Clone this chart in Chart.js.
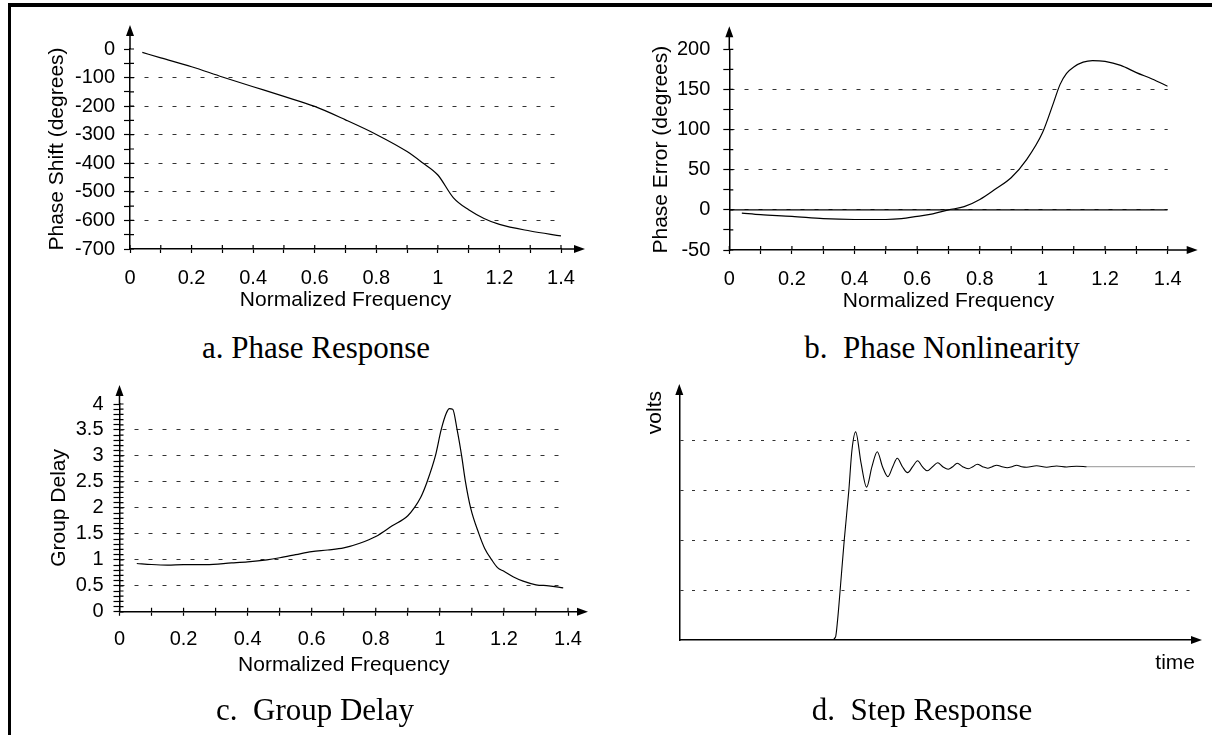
<!DOCTYPE html>
<html>
<head>
<meta charset="utf-8">
<title>Phase response, nonlinearity, group delay and step response</title>
<script src="https://cdn.jsdelivr.net/npm/chart.js@4.4.1/dist/chart.umd.min.js"></script>
<style>
    html, body { margin: 0; padding: 0; background: #fff; overflow: hidden; }
    body { width: 1212px; height: 735px; position: relative; }
    .frame-top { position: absolute; left: 8px; top: 3px; width: 1204px; height: 4px; background: #000; }
    .frame-left { position: absolute; left: 8px; top: 3px; width: 3px; height: 732px; background: #000; }
    canvas { position: absolute; }
    .caption {
        position: absolute; width: 400px; text-align: center; white-space: pre;
        font-family: "Liberation Serif", "Times New Roman", serif;
        font-size: 31px; line-height: 31px; color: #000;
    }
</style>
</head>
<body>
<div class="frame-top"></div>
<div class="frame-left"></div>

<canvas id="chartA" width="594" height="320" style="left:12px;top:8px"></canvas>
<canvas id="chartB" width="600" height="320" style="left:612px;top:8px"></canvas>
<canvas id="chartC" width="594" height="330" style="left:12px;top:370px"></canvas>
<canvas id="chartD" width="600" height="330" style="left:612px;top:370px"></canvas>

<div class="caption" style="left:116px;top:332px">a. Phase Response</div>
<div class="caption" style="left:742px;top:332px">b.  Phase Nonlinearity</div>
<div class="caption" style="left:115px;top:694px">c.  Group Delay</div>
<div class="caption" style="left:722px;top:694px">d.  Step Response</div>

<script>
// values

// a. phase response
const freqA  = [0.04, 0.1, 0.2, 0.3, 0.4, 0.5, 0.6, 0.7, 0.8, 0.9, 0.95, 1.0, 1.05, 1.1, 1.15, 1.2, 1.3, 1.4];
const phaseA = [-12, -31, -62, -98, -132, -166, -201, -248, -299, -359, -398, -441, -520, -563, -593, -614, -637, -654];

// b. phase nonlinearity
const freqB  = [0.04, 0.1, 0.2, 0.3, 0.4, 0.5, 0.55, 0.6, 0.65, 0.7, 0.75, 0.8, 0.85, 0.9, 0.95, 1.0,
                1.035, 1.056, 1.077, 1.1, 1.13, 1.16, 1.2, 1.25, 1.3, 1.35, 1.4];
const errorB = [-4, -6, -8, -11, -12, -12, -11, -8, -5, 0, 4, 13, 26, 40, 63, 96,
                133, 156, 170, 178, 184, 186, 185, 180, 171, 163, 154];
const zeroB  = [0, 1.4];

// c. group delay
const freqC  = [0.054, 0.1, 0.15, 0.2, 0.27, 0.35, 0.4, 0.46, 0.5, 0.55, 0.6, 0.65, 0.7, 0.75, 0.8, 0.85,
                0.9, 0.92, 0.94, 0.96, 0.986, 1.004, 1.02, 1.03, 1.04, 1.054, 1.068, 1.08, 1.096,
                1.122, 1.14, 1.162, 1.18, 1.2, 1.23, 1.26, 1.3, 1.34, 1.385];
const delayC = [0.93, 0.91, 0.90, 0.91, 0.91, 0.94, 0.96, 1.0, 1.04, 1.10, 1.16, 1.19, 1.23, 1.32, 1.45, 1.65,
                1.85, 2.0, 2.2, 2.5, 3.0, 3.5, 3.82, 3.91, 3.9, 3.5, 3.0, 2.5, 2.0,
                1.5, 1.22, 1.0, 0.85, 0.78, 0.67, 0.59, 0.52, 0.5, 0.46];

// d. step response (arbitrary time and volt units)
const timeD  = [0, 29.8, 30.6, 31.0, 31.5, 32.3, 33.2, 33.8, 34.54, 35.6, 36.69, 37.73, 38.77, 39.8, 40.86,
                41.8, 42.69, 43.7, 44.72, 45.7, 46.68, 47.6, 48.56, 49.6, 50.6, 51.6, 52.67, 53.55,
                54.44, 55.5, 56.59, 57.5, 58.35, 59.4, 60.39, 61.3, 62.15, 63.2, 64.23, 65.15, 66.07,
                67.05, 68.02, 69.98, 71.94, 73.9, 75.86, 77.81, 79.77];
const voltsD = [0, 0, 0.06, 0.4, 1.0, 2.0, 3.0, 3.8, 4.18, 3.55, 3.07, 3.48, 3.78, 3.48, 3.28,
                3.48, 3.65, 3.48, 3.36, 3.48, 3.60, 3.48, 3.40, 3.48, 3.56, 3.48, 3.43, 3.48,
                3.55, 3.48, 3.44, 3.48, 3.53, 3.48, 3.45, 3.48, 3.51, 3.48, 3.46, 3.48, 3.51,
                3.48, 3.47, 3.50, 3.47, 3.495, 3.475, 3.49, 3.48];
const settledTime  = [79.77, 101];
const settledVolts = [3.48, 3.48];

// labelled ticks
const freqLabels   = [0, 0.2, 0.4, 0.6, 0.8, 1, 1.2, 1.4];
const phaseLabelsA = [0, -100, -200, -300, -400, -500, -600, -700];
const errorLabelsB = [-50, 0, 50, 100, 150, 200];
const delayLabelsC = [0, 0.5, 1, 1.5, 2, 2.5, 3, 3.5, 4];
const voltLevelsD  = [1, 2, 3, 4];

const sans = '"Liberation Sans", Arial, sans-serif';
Chart.defaults.font.family = sans;
Chart.defaults.color = '#000';
Chart.defaults.animation = false;

function points(xs, ys) {
    return xs.map((x, i) => ({ x: x, y: ys[i] }));
}

function inList(list, v) {
    return list.some(l => Math.abs(l - v) < 1e-6);
}

// axis arrows, plus the inner half of the tick marks
const axisArrows = {
    id: 'axisArrows',
    afterDraw(chart, args, opts) {
        const ctx = chart.ctx;
        const area = chart.chartArea;
        const xs = chart.scales.x;
        const ys = chart.scales.y;
        ctx.save();
        ctx.strokeStyle = '#000';
        ctx.fillStyle = '#000';
        if (opts.inTick) {
            ctx.lineWidth = 1.2;
            ctx.beginPath();
            xs.ticks.forEach(t => {
                const px = xs.getPixelForValue(t.value);
                ctx.moveTo(px, area.bottom);
                ctx.lineTo(px, area.bottom - opts.inTick);
            });
            ys.ticks.forEach(t => {
                const py = ys.getPixelForValue(t.value);
                ctx.moveTo(area.left, py);
                ctx.lineTo(area.left + opts.inTick, py);
            });
            ctx.stroke();
        }
        const ty = area.top - opts.yExt;
        const tx = area.right + opts.xExt;
        ctx.lineWidth = 1.5;
        ctx.beginPath();
        ctx.moveTo(area.left, area.top);
        ctx.lineTo(area.left, ty + 6);
        ctx.moveTo(area.right, area.bottom);
        ctx.lineTo(tx - 6, area.bottom);
        ctx.stroke();
        ctx.beginPath();
        ctx.moveTo(area.left, ty);
        ctx.lineTo(area.left - 4, ty + 11);
        ctx.lineTo(area.left + 4, ty + 11);
        ctx.closePath();
        ctx.moveTo(tx, area.bottom);
        ctx.lineTo(tx - 11, area.bottom - 4);
        ctx.lineTo(tx - 11, area.bottom + 4);
        ctx.closePath();
        ctx.fill();
        ctx.restore();
    }
};

function freqChart(id, o) {
    return new Chart(document.getElementById(id), {
        type: 'line',
        data: { datasets: o.datasets },
        options: {
            responsive: false,
            layout: { padding: o.padding },
            elements: { point: { radius: 0 } },
            plugins: {
                legend: { display: false },
                tooltip: { enabled: false },
                axisArrows: { xExt: o.xExt, yExt: o.yExt, inTick: 4 }
            },
            scales: {
                x: {
                    type: 'linear', min: 0, max: 1.4,
                    afterFit: s => { s.height = o.xHeight; },
                    border: { display: true, color: '#000', width: 1.5 },
                    grid: { drawOnChartArea: false, tickLength: 4, tickColor: '#000', tickWidth: 1.2 },
                    ticks: {
                        stepSize: 0.1, autoSkip: false, maxRotation: 0, minRotation: 0,
                        padding: o.xTickPad,
                        font: { size: 20 },
                        callback: v => inList(freqLabels, v) ? String(Math.round(v * 10) / 10) : ''
                    },
                    title: {
                        display: true, text: 'Normalized Frequency',
                        font: { size: 21 }, padding: { top: 0, bottom: o.xTitlePad }
                    }
                },
                y: {
                    type: 'linear', min: o.yMin, max: o.yMax,
                    afterFit: s => { s.width = o.yWidth; },
                    border: { display: true, color: '#000', width: 1.5, dash: [4, 10] },
                    grid: {
                        tickLength: 6, tickColor: '#000', tickWidth: 1.2, lineWidth: 1,
                        color: c => {
                            const v = c.tick.value;
                            return inList(o.yLabels, v) && v > o.yMin && v < o.yMax ? '#333' : 'rgba(0,0,0,0)';
                        }
                    },
                    ticks: {
                        stepSize: o.yStep, autoSkip: false,
                        padding: o.yTickPad,
                        font: { size: 20 },
                        callback: v => inList(o.yLabels, v) ? String(Math.round(v * 100) / 100) : ''
                    },
                    title: {
                        display: true, text: o.yTitle,
                        font: { size: 21 }, padding: { top: o.yTitlePad, bottom: 0 }
                    }
                }
            }
        },
        plugins: [axisArrows]
    });
}

const curve = { borderColor: '#000', borderWidth: 1.2, cubicInterpolationMode: 'monotone', fill: false };

freqChart('chartA', {
    datasets: [Object.assign({ data: points(freqA, phaseA) }, curve)],
    padding: { left: 0, right: 45, top: 41, bottom: 0 },
    xHeight: 79, yWidth: 118,
    xTickPad: 13, xTitlePad: 15, yTickPad: 9, yTitlePad: 33,
    yMin: -700, yMax: 0, yStep: 50, yLabels: phaseLabelsA,
    yTitle: 'Phase Shift (degrees)',
    xExt: 24, yExt: 24
});

freqChart('chartB', {
    datasets: [
        Object.assign({ data: points(zeroB, [0, 0]) }, curve),
        Object.assign({ data: points(freqB, errorB) }, curve)
    ],
    padding: { left: 0, right: 44.3, top: 41.3, bottom: 0 },
    xHeight: 78, yWidth: 117.3,
    xTickPad: 13, xTitlePad: 14, yTickPad: 13, yTitlePad: 37,
    yMin: -50, yMax: 200, yStep: 25, yLabels: errorLabelsB,
    yTitle: 'Phase Error (degrees)',
    xExt: 30, yExt: 23
});

freqChart('chartC', {
    datasets: [Object.assign({ data: points(freqC, delayC) }, curve)],
    padding: { left: 0, right: 38, top: 34, bottom: 0 },
    xHeight: 88.2, yWidth: 107.5,
    xTickPad: 12, xTitlePad: 22, yTickPad: 10, yTitlePad: 35,
    yMin: 0, yMax: 4, yStep: 0.1, yLabels: delayLabelsC,
    yTitle: 'Group Delay',
    xExt: 20, yExt: 19
});

new Chart(document.getElementById('chartD'), {
    type: 'line',
    data: {
        datasets: [
            { data: points(timeD, voltsD), borderColor: '#000', borderWidth: 1.1, cubicInterpolationMode: 'monotone' },
            { data: points(settledTime, settledVolts), borderColor: '#aaa', borderWidth: 1.2 }
        ]
    },
    options: {
        responsive: false,
        layout: { padding: { left: 0, right: 17, top: 21, bottom: 0 } },
        elements: { point: { radius: 0 } },
        plugins: {
            legend: { display: false },
            tooltip: { enabled: false },
            axisArrows: { xExt: 7, yExt: 7, inTick: 0 }
        },
        scales: {
            x: {
                type: 'linear', min: 0, max: 101,
                afterFit: s => { s.height = 60; },
                border: { display: true, color: '#000', width: 1.5 },
                grid: { display: false },
                ticks: { display: false },
                title: { display: true, text: 'time', align: 'end', font: { size: 21 }, padding: { top: 0, bottom: 24 } }
            },
            y: {
                type: 'linear', min: 0, max: 5,
                afterFit: s => { s.width = 67.3; },
                border: { display: true, color: '#000', width: 1.5, dash: [3, 8.5] },
                grid: {
                    drawTicks: false, lineWidth: 1,
                    color: c => inList(voltLevelsD, c.tick.value) ? '#333' : 'rgba(0,0,0,0)'
                },
                ticks: { display: false, stepSize: 1 },
                title: { display: true, text: 'volts', align: 'end', font: { size: 21 }, padding: { top: 31, bottom: 0 } }
            }
        }
    },
    plugins: [axisArrows]
});
</script>
</body>
</html>
